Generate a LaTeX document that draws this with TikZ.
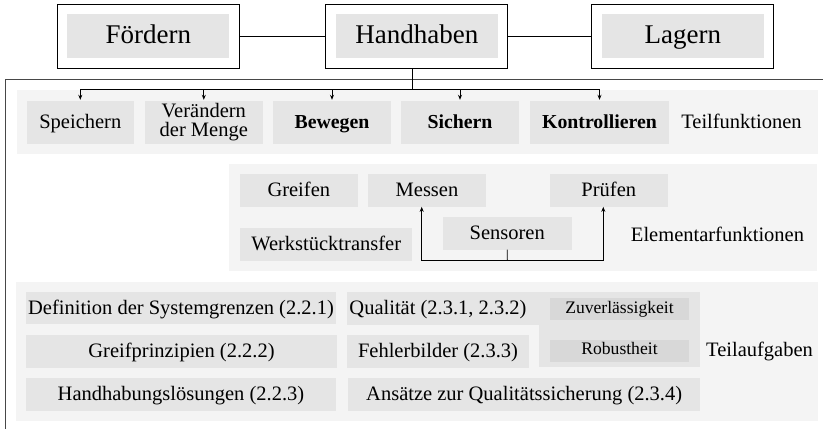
\documentclass[tikz,border=0pt]{standalone}
\usepackage{fontspec}
\setmainfont{Liberation Serif}
\usetikzlibrary{arrows.meta}

\definecolor{bandgray}{HTML}{F4F4F4}
\definecolor{boxgray}{HTML}{E5E5E5}
\definecolor{darkgray}{HTML}{D8D8D8}

\tikzset{
  x=1pt, y=-1pt,
  txt/.style={font=\fontsize{20.5}{22}\selectfont, inner sep=0pt,
    text height=16pt, text depth=3.7pt},
  boldtxt/.style={font=\fontsize{19.8}{22}\selectfont\bfseries},
  topbox/.style={draw=black, line width=1.3pt, fill=white, inner sep=0pt,
    minimum width=182pt, minimum height=64pt,
    font=\fontsize{27}{29}\selectfont, text height=19pt, text depth=5pt,
    path picture={\fill[boxgray]
      ([shift={(10pt,-10pt)}]path picture bounding box.north west) rectangle
      ([shift={(-10pt,10pt)}]path picture bounding box.south east);}},
  fbox/.style={txt, fill=boxgray, minimum height=43pt},
  ebox/.style={txt, fill=boxgray, minimum height=32.7pt},
  sbox/.style={txt, fill=darkgray, minimum height=21.7pt, minimum width=139pt,
    font=\fontsize{17.6}{19}\selectfont, text height=12pt, text depth=4pt},
  link/.style={line width=0.9pt, draw=black},
  arr/.style={link, -{Stealth[length=5pt,width=4pt]}},
  frame/.style={line width=1.2pt, draw=black!72},
}

\begin{document}
\begin{tikzpicture}
\useasboundingbox (0,0) rectangle (823,430);

% background bands
\fill[bandgray] (17,90) rectangle (817.7,154.3);
\fill[bandgray] (229,164) rectangle (816.7,270.7);
\fill[bandgray] (16,281.7) rectangle (817.7,420.7);

% main functions
\node[topbox] (fo) at (148.3,36.2) {Fördern};
\node[topbox] (hh) at (416.8,36.2) {Handhaben};
\node[topbox] (la) at (682.8,36.2) {Lagern};
\draw[link] (fo.east) -- (hh.west);
\draw[link] (hh.east) -- (la.west);

% frame around the detail levels
\coordinate (fr1) at (5.7,429);
\coordinate (fr2) at (5.7,79.3);
\coordinate (fr3) at (823,79.3);
\draw[frame] (fr1) -- (fr2) -- (fr3);

% Teilfunktionen
\node[fbox, minimum width=107.3pt] (sp) at (80.3,122.5) {Speichern};
\node[fbox, minimum width=117.7pt, align=center, text height=32pt, text depth=3.6pt,
  font=\fontsize{20.5}{18.7}\selectfont] (ve) at (203.8,122.5) {Verändern\\der Menge};
\node[fbox, minimum width=117.4pt, boldtxt] (be) at (332,122.5) {Bewegen};
\node[fbox, minimum width=118pt, boldtxt] (si) at (460,122.5) {Sichern};
\node[fbox, minimum width=139pt, boldtxt] (ko) at (599.5,122.5) {Kontrollieren};
\node[txt] (tf) at (741.5,122.5) {Teilfunktionen};

\coordinate (hbus) at (412.3,89.3);
\draw[link] ([xshift=-4.5pt]hh.south) -- (hbus);
\draw[link] (sp.north |- hbus) -- (ko.north |- hbus);
\foreach \n in {sp,ve,be,si,ko}
  \draw[arr] (\n.north |- hbus) -- ([yshift=1pt]\n.north);

% Elementarfunktionen
\node[ebox, minimum width=117.7pt] (gr) at (298.8,190.3) {Greifen};
\node[ebox, minimum width=117.4pt] (me) at (427,190.3) {Messen};
\node[ebox, minimum width=117.7pt] (pr) at (608.8,190.3) {Prüfen};
\node[ebox, minimum width=129pt] (se) at (507.2,233.2) {Sensoren};
\node[ebox, minimum width=172.3pt] (wt) at (326.2,244.5) {Werkstücktransfer};
\node[txt] (ef) at (717.5,235) {Elementarfunktionen};

\coordinate (ebus) at (507.3,260.3);
\draw[link] (se.south) -- (ebus);
\draw[arr] (ebus) -| ([xshift=-5.3pt]me.south);
\draw[arr] (ebus) -| ([xshift=-5.5pt]pr.south);

% Teilaufgaben
\node[ebox, minimum width=310pt, minimum height=32pt] (dg) at (181,308.3) {Definition der Systemgrenzen (2.2.1)};
\node[ebox, minimum width=311pt] (gp) at (181.5,351.3) {Greifprinzipien (2.2.2)};
\node[ebox, minimum width=310pt] (hl) at (181,394.2) {Handhabungslösungen (2.2.3)};

% quality group: one grey area joined to the Qualität row
\node[fill=boxgray, inner sep=0pt, minimum width=161pt, minimum height=74.7pt] (grp) at (619.5,329.7) {};
\fill[boxgray] (438,292.3) rectangle ([xshift=1pt]grp.west |- 0,325);
\node[ebox, minimum width=182.6pt] (qu) at (438,308.7) {Qualität (2.3.1, 2.3.2)};
\node[sbox] (zu) at (619.5,309.2) {Zuverlässigkeit};
\node[sbox] (ro) at (619.5,350.8) {Robustheit};
\node[ebox, minimum width=182.6pt] (fb) at (438,351.3) {Fehlerbilder (2.3.3)};
\node[ebox, minimum width=351.7pt] (aq) at (524.2,394.2) {Ansätze zur Qualitätssicherung (2.3.4)};
\node[txt] (ta) at (759.5,350.5) {Teilaufgaben};

\end{tikzpicture}
\end{document}
